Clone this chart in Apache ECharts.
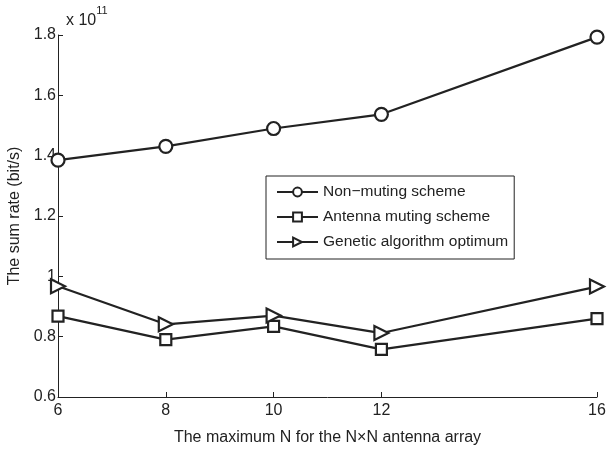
<!DOCTYPE html>
<html>
<head>
<meta charset="utf-8">
<script src="https://cdn.jsdelivr.net/npm/echarts@6/dist/echarts.min.js"></script>
<style>
  html, body { margin: 0; padding: 0; background: #fff; }
  #chart { width: 611px; height: 452px; }
</style>
</head>
<body>
<div id="chart"></div>
<script>
// N values on the x axis
const nValues = [6, 8, 10, 12, 16];
const xTicks = [6, 8, 10, 12, 16];
// sum rate, in units of 1e11 bit/s
const nonMuting = [1.385, 1.431, 1.49, 1.537, 1.793];
const antennaMuting = [0.868, 0.79, 0.834, 0.758, 0.86];
const geneticOpt = [0.967, 0.841, 0.87, 0.812, 0.966];

const seriesNames = ["Non\u2212muting scheme", "Antenna muting scheme", "Genetic algorithm optimum"];

const pairs = (ys) => nValues.map((x, i) => [x, ys[i]]);

const font = "Liberation Sans, Arial, sans-serif";
const ink = "#222";

let chart = echarts.init(document.getElementById("chart"));

const lineSeries = (name, data, symbol, size, rotate) => ({
  name: name,
  type: "line",
  data: pairs(data),
  symbol: symbol,
  symbolSize: size,
  symbolRotate: rotate || 0,
  showAllSymbol: true,
  lineStyle: { color: ink, width: 2.2 },
  itemStyle: { color: "#fff", borderColor: ink, borderWidth: 2.2 },
  emphasis: { disabled: true },
  z: 3,
});

let option = {
  animation: false,
  backgroundColor: "#fff",
  grid: { left: 58, right: 14, top: 35, bottom: 55, outerBoundsMode: "none", containLabel: false },
  legend: {
    orient: "vertical",
    left: 266,
    top: 176,
    padding: [8, 6, 9, 10],
    itemGap: 9,
    itemWidth: 41,
    itemHeight: 11,
    borderColor: ink,
    borderWidth: 1,
    backgroundColor: "#fff",
    textStyle: { fontFamily: font, fontSize: 15.5, color: ink, padding: [0, 0, 0, 0] },
    data: seriesNames,
  },
  xAxis: {
    type: "value",
    min: 6,
    max: 16,
    interval: 2,
    name: "The maximum N for the N\u00d7N antenna array",
    nameLocation: "middle",
    nameGap: 33,
    nameTextStyle: { fontFamily: font, fontSize: 16, color: ink },
    axisLine: { lineStyle: { color: ink, width: 1 } },
    axisTick: { inside: true, length: 5, customValues: xTicks, lineStyle: { color: ink } },
    axisLabel: { customValues: xTicks, fontFamily: font, fontSize: 16, color: ink, margin: 6 },
    splitLine: { show: false },
  },
  yAxis: {
    type: "value",
    min: 0.6,
    max: 1.8,
    interval: 0.2,
    name: "The sum rate (bit/s)",
    nameLocation: "middle",
    nameGap: 33,
    nameTextStyle: { fontFamily: font, fontSize: 16, color: ink },
    axisLine: { show: true, lineStyle: { color: ink, width: 1 } },
    axisTick: { show: true, inside: true, length: 5, lineStyle: { color: ink } },
    axisLabel: {
      fontFamily: font,
      fontSize: 16,
      color: ink,
      margin: 2,
      formatter: (v) => String(parseFloat(v.toFixed(1))),
    },
    splitLine: { show: false },
  },
  graphic: [
    {
      type: "text",
      left: 66,
      top: 5,
      style: {
        text: "{b|x 10}{s|11}",
        rich: {
          b: { fontFamily: font, fontSize: 16, fill: ink, verticalAlign: "bottom", padding: [8, 0, 0, 0] },
          s: { fontFamily: font, fontSize: 11, fill: ink, verticalAlign: "top" },
        },
      },
    },
  ],
  series: [
    lineSeries(seriesNames[0], nonMuting, "circle", 13),
    lineSeries(seriesNames[1], antennaMuting, "rect", 11),
    lineSeries(seriesNames[2], geneticOpt, "triangle", 14, -90),
  ],
};

chart.setOption(option);
</script>
</body>
</html>
